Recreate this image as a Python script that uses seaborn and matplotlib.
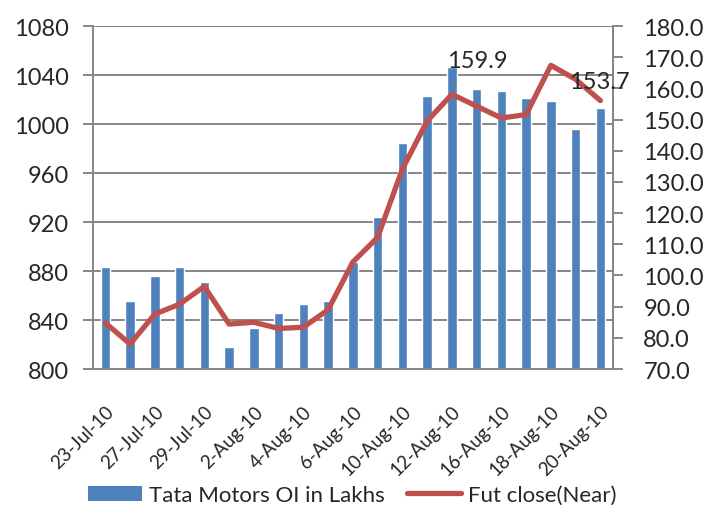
import numpy as np
import pandas as pd
import matplotlib
matplotlib.use("Agg")
import matplotlib.pyplot as plt
import seaborn as sns
from matplotlib.patches import Patch
from matplotlib.lines import Line2D

# === Data ===
dates = ["23-Jul-10", "26-Jul-10", "27-Jul-10", "28-Jul-10", "29-Jul-10", "30-Jul-10",
         "2-Aug-10", "3-Aug-10", "4-Aug-10", "5-Aug-10", "6-Aug-10", "9-Aug-10",
         "10-Aug-10", "11-Aug-10", "12-Aug-10", "13-Aug-10", "16-Aug-10", "17-Aug-10",
         "18-Aug-10", "19-Aug-10", "20-Aug-10"]
oi_lakhs = [883.5, 855.8, 876.0, 883.5, 870.7, 817.7, 833.2, 845.5, 853.0, 855.3, 887.0,
            923.8, 984.5, 1022.6, 1046.3, 1029.0, 1027.0, 1021.0, 1018.5, 995.9, 1012.8]
fut_close = [84.8, 78.0, 87.6, 90.8, 96.5, 84.4, 85.0, 83.0, 83.4, 89.0, 104.3,
             112.2, 134.1, 149.5, 158.1, 154.3, 150.5, 151.6, 167.4, 162.9, 156.1]
labelled = {14: "159.9", 20: "153.7"}

bar_color = "#4F81BD"
line_color = "#C0504D"
grey = "#868686"

sns.set_style("white")
plt.rcParams["font.family"] = ["Lato", "DejaVu Sans"]

df = pd.DataFrame({"date": dates, "oi": oi_lakhs, "fut": fut_close})

fig = plt.figure(figsize=(7.15, 5.1), dpi=100)
ax = fig.add_axes([0.130, 0.2745, 0.727, 0.6725])

# === Bars: open interest ===
sns.barplot(data=df, x="date", y="oi", color=bar_color, width=0.38,
            saturation=1, ax=ax)
ax.set_ylim(800, 1080)
ax.set_yticks(np.arange(800, 1081, 40))
ax.set_xlim(-0.5, len(dates) - 0.5)
ax.yaxis.grid(True, color=grey, linewidth=1.4)
ax.set_axisbelow(True)
ax.set_xlabel("")
ax.set_ylabel("")

# every other date labelled, ticks on category boundaries
ax.set_xticks(range(0, len(dates), 2))
ax.set_xticklabels(dates[::2], rotation=45, ha="right", rotation_mode="anchor",
                   fontsize=13.5)
ax.set_xticks(np.arange(-0.5, len(dates), 1), minor=True)
ax.tick_params(axis="x", which="major", length=0, pad=24)
ax.tick_params(axis="x", which="minor", length=6, width=1.4, color=grey,
               direction="out")
ax.tick_params(axis="y", length=7, width=1.4, color=grey, labelsize=17, pad=10)

for side in ["left", "bottom", "right"]:
    ax.spines[side].set_color(grey)
    ax.spines[side].set_linewidth(1.4)
ax.spines["top"].set_visible(False)

# === Line: futures close on the right axis ===
ax2 = ax.twinx()
sns.lineplot(x=np.arange(len(dates)), y=fut_close, color=line_color,
             linewidth=3.8, ax=ax2)
ax2.set_ylim(70, 180)
ax2.set_yticks(np.arange(70, 181, 10))
ax2.set_yticklabels([f"{v:.1f}" for v in np.arange(70, 181, 10)])
ax2.tick_params(axis="y", length=7, width=1.4, color=grey, labelsize=17, pad=15)
for side in ["left", "bottom", "top"]:
    ax2.spines[side].set_visible(False)
ax2.spines["right"].set_color(grey)
ax2.spines["right"].set_linewidth(1.4)

offsets = {14: (18, 24), 20: (-1, 14)}
for i, txt in labelled.items():
    ax2.annotate(txt, xy=(i, fut_close[i]), xytext=offsets[i],
                 textcoords="offset points", ha="center", va="center",
                 fontsize=17)

# === Legend ===
handles = [Patch(facecolor=bar_color, edgecolor="none"),
           Line2D([0], [0], color=line_color, linewidth=3.8)]
fig.legend(handles, ["Tata Motors OI in Lakhs", "Fut close(Near)"],
           loc="center left", bbox_to_anchor=(0.123, 0.027), ncol=2, frameon=False,
           fontsize=16, handlelength=2.45, handletextpad=0.3, columnspacing=1.0,
           borderpad=0, borderaxespad=0)

fig.savefig("out.png", dpi=100)
